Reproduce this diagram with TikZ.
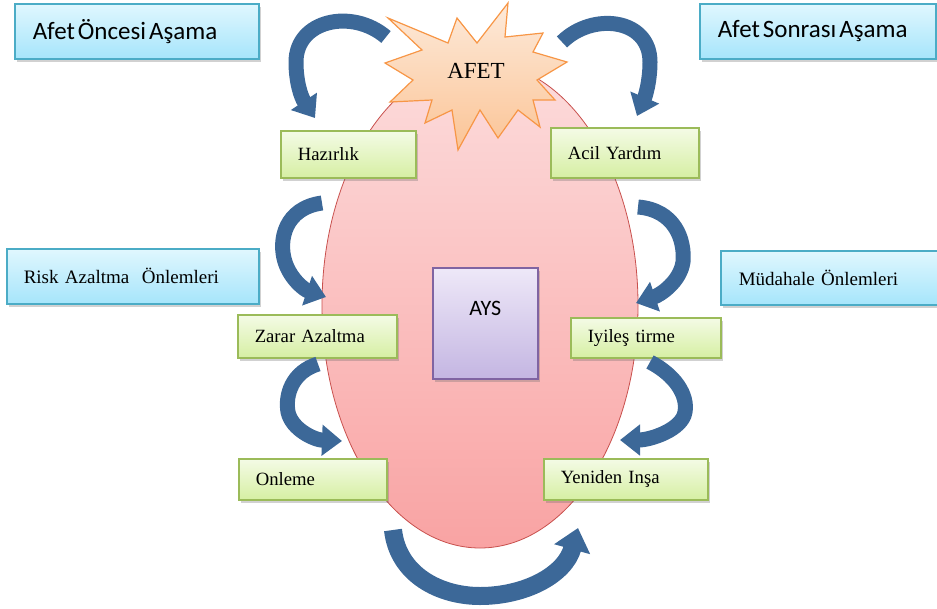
\documentclass[tikz,border=0pt]{standalone}
\usepackage{fontspec}
\setmainfont{Liberation Serif}
\newfontfamily\carlito{Carlito}
\usetikzlibrary{shadows,arrows.meta,shapes.geometric}
\newcommand\tightwords{\spaceskip=0.12em\relax}

% palette
\definecolor{skyTop}{RGB}{224,247,254}
\definecolor{skyBot}{RGB}{166,229,251}
\definecolor{skyLine}{RGB}{75,172,198}
\definecolor{leafTop}{RGB}{244,251,230}
\definecolor{leafBot}{RGB}{214,239,163}
\definecolor{leafLine}{RGB}{155,187,89}
\definecolor{lilacTop}{RGB}{238,232,248}
\definecolor{lilacBot}{RGB}{196,182,226}
\definecolor{lilacLine}{RGB}{128,100,162}
\definecolor{pinkTop}{RGB}{252,220,220}
\definecolor{pinkBot}{RGB}{249,163,163}
\definecolor{pinkLine}{RGB}{200,80,77}
\definecolor{peachTop}{RGB}{253,234,218}
\definecolor{peachBot}{RGB}{251,196,150}
\definecolor{peachLine}{RGB}{247,150,70}
\definecolor{steel}{RGB}{60,104,152}

\tikzset{
  softshadow/.style={drop shadow={shadow xshift=2pt,shadow yshift=-3pt,opacity=.3,fill=black!60}},
  phasebox/.style={draw=skyLine,line width=1.5pt,top color=skyTop,bottom color=skyBot,
    softshadow,anchor=north west,inner xsep=18pt,inner ysep=0pt,align=left},
  headingfont/.style={font=\carlito\fontsize{25}{28}\selectfont},
  stagebox/.style={draw=leafLine,line width=1.5pt,top color=leafTop,bottom color=leafBot,
    softshadow,anchor=north west,inner xsep=17pt,inner ysep=0pt,align=left,
    font=\fontsize{18.7}{22}\selectfont},
  cyclearrow/.style={draw=steel,line width=15pt,-{Triangle[width=30pt,length=20pt]}},
}

\begin{document}
\begin{tikzpicture}[x=1pt,y=-1pt]
\useasboundingbox (0,0) rectangle (937,608);

% central disaster-management cycle
\node[ellipse,draw=pinkLine,line width=0.8pt,top color=pinkTop,bottom color=pinkBot,
  minimum width=316pt,minimum height=486pt,inner sep=0pt] (oval) at (480,305) {};

% the disaster itself
\draw[draw=peachLine,line width=1.2pt,top color=peachTop,bottom color=peachBot,line join=miter]
  (388,18) -- (448,43) -- (457,18) -- (477,43) -- (508,3) -- (505,37) -- (543,33)
  -- (533,52) -- (567,62) -- (537,80) -- (555,100) -- (533,100) -- (540,127)
  -- (518,110) -- (498,138) -- (480,110) -- (458,150) -- (452,110) -- (425,123)
  -- (432,100) -- (390,102) -- (413,80) -- (385,63) -- (422,50) -- cycle;
\node[font=\fontsize{23}{26}\selectfont] (afet) at (476,71) {AFET};

% management system
\node[draw=lilacLine,line width=1.5pt,top color=lilacTop,bottom color=lilacBot,softshadow,
  anchor=north west,minimum width=105pt,minimum height=111pt,inner sep=0pt,
  text height=13pt,text depth=28pt,font=\carlito\fontsize{22}{26}\selectfont]
  (ays) at (432,267) {AYS};

% phase headings
\node[phasebox,headingfont,minimum width=244pt,minimum height=55pt,text width=208pt]
  (pre) at (14,3) {\tightwords Afet Öncesi Aşama};
\node[phasebox,headingfont,minimum width=236pt,minimum height=55pt,text width=200pt]
  (post) at (699,3) {\tightwords Afet Sonrası Aşama};
\node[phasebox,minimum width=252pt,minimum height=55pt,text width=218pt,inner xsep=16pt,
  font=\fontsize{19}{22}\selectfont] (risk) at (6,248) {Risk Azaltma~ Önlemleri};
\node[phasebox,minimum width=219pt,minimum height=54pt,text width=183pt,
  font=\fontsize{19}{22}\selectfont] (resp) at (720,250) {Müdahale Önlemleri};

% stages
\node[stagebox,minimum width=135pt,minimum height=47pt,text width=101pt] (haz) at (280,130) {Hazırlık};
\node[stagebox,minimum width=148pt,minimum height=50pt,text width=114pt] (acil) at (550,127) {Acil Yardım};
\node[stagebox,minimum width=159pt,minimum height=43pt,text width=125pt] (zarar) at (237,314) {Zarar Azaltma};
\node[stagebox,minimum width=150pt,minimum height=40pt,text width=116pt] (iyi) at (570,317) {Iyileş tirme};
\node[stagebox,minimum width=148pt,minimum height=41pt,text width=114pt] (onl) at (238,458) {Onleme};
\node[stagebox,minimum width=164pt,minimum height=41pt,text width=130pt] (yen) at (543,458) {Yeniden Inşa};

% curved cycle arrows
\coordinate (a1s) at (386,37);  \coordinate (a1e) at (315,118);
\coordinate (a2s) at (562,42);  \coordinate (a2e) at (637,116);
\coordinate (a3s) at (322,203); \coordinate (a3e) at (326,297);
\coordinate (a4s) at (638,207); \coordinate (a4e) at (636,303);
\coordinate (a5s) at (318,364); \coordinate (a5e) at (342,441);
\coordinate (a6s) at (650,362); \coordinate (a6e) at (620,440);
\coordinate (a7s) at (393,530); \coordinate (a7e) at (578,528);

\draw[cyclearrow] (a1s) .. controls (352,8) and (296,20) .. (296,62)
  .. controls (296,82) and (301,97) .. (a1e);
\draw[cyclearrow] (a2s) .. controls (592,12) and (650,18) .. (650,62)
  .. controls (650,82) and (645,97) .. (a2e);
\draw[cyclearrow] (a3s) .. controls (285,208) and (278,240) .. (285,262)
  .. controls (291,280) and (305,290) .. (a3e);
\draw[cyclearrow] (a4s) .. controls (675,210) and (685,240) .. (683,262)
  .. controls (680,282) and (660,295) .. (a4e);
\draw[cyclearrow] (a5s) .. controls (292,372) and (285,395) .. (288,412)
  .. controls (292,430) and (315,440) .. (a5e);
\draw[cyclearrow] (a6s) .. controls (675,375) and (688,395) .. (685,412)
  .. controls (682,430) and (650,440) .. (a6e);
\draw[cyclearrow,line width=18pt,-{Triangle[width=36pt,length=22pt]}]
  (a7s) .. controls (398,575) and (440,596) .. (480,596)
  .. controls (525,596) and (565,575) .. (a7e);
\end{tikzpicture}
\end{document}
